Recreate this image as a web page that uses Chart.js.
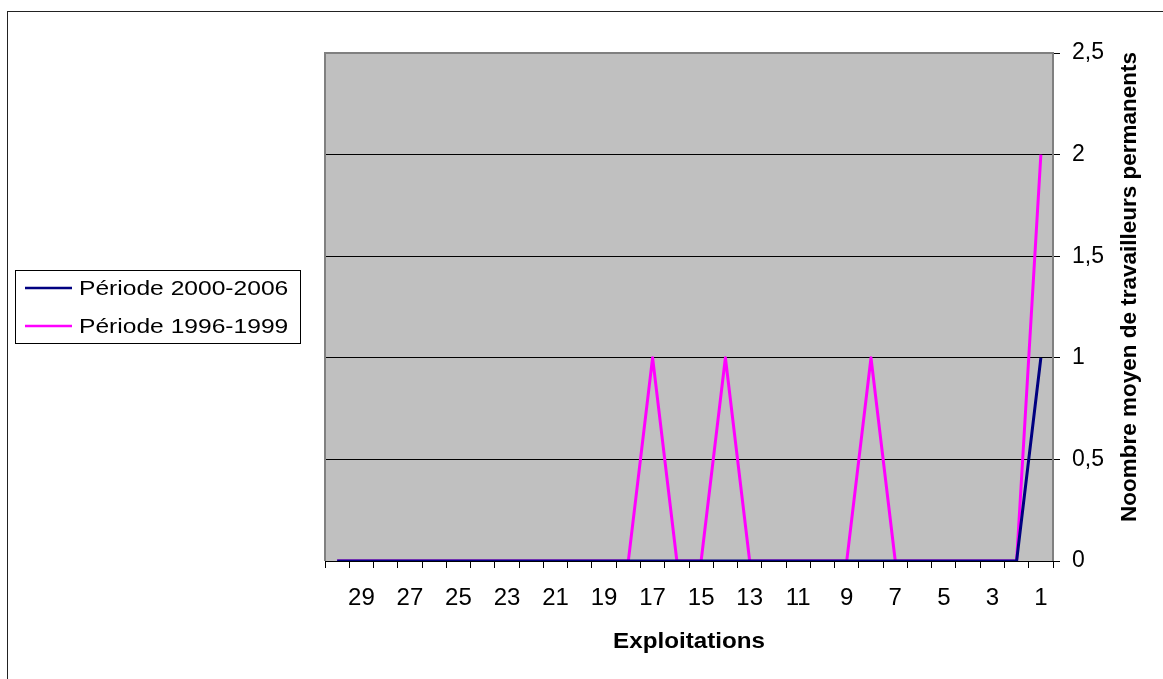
<!DOCTYPE html>
<html>
<head>
<meta charset="utf-8">
<script src="https://cdn.jsdelivr.net/npm/chart.js@4"></script>
<style>
  body { margin: 0; background: #fff; }
</style>
</head>
<body>
<canvas id="graphique" width="1163" height="679"></canvas>
<script>
// Exploitations, affichées de 30 à 1
const exploitations = ['30', '29', '28', '27', '26', '25', '24', '23', '22', '21',
  '20', '19', '18', '17', '16', '15', '14', '13', '12', '11',
  '10', '9', '8', '7', '6', '5', '4', '3', '2', '1'];

// Nombre moyen de travailleurs permanents
const periode2000_2006 = [0, 0, 0, 0, 0, 0, 0, 0, 0, 0,
  0, 0, 0, 0, 0, 0, 0, 0, 0, 0,
  0, 0, 0, 0, 0, 0, 0, 0, 0, 1];
const periode1996_1999 = [0, 0, 0, 0, 0, 0, 0, 0, 0, 0,
  0, 0, 0, 1, 0, 0, 1, 0, 0, 0,
  0, 0, 1, 0, 0, 0, 0, 0, 0, 2];

const nomsSeries = ['Période 2000-2006', 'Période 1996-1999'];
const couleurs = ['#000080', '#ff00ff'];
const titreX = 'Exploitations';
const titreY = 'Noombre moyen de travailleurs permanents';

const police = 'Liberation Sans, Arial, sans-serif';

// fond gris, cadre, légende et titres
const decor = {
  id: 'decor',
  beforeDraw(chart) {
    const { ctx, chartArea: a } = chart;
    ctx.save();
    ctx.fillStyle = '#fff';
    ctx.fillRect(0, 0, chart.width, chart.height);
    ctx.strokeStyle = '#222';
    ctx.lineWidth = 1;
    ctx.strokeRect(7.5, 11.5, 1300, 800);
    ctx.fillStyle = '#c0c0c0';
    ctx.fillRect(a.left, a.top, a.right - a.left, a.bottom - a.top);
    ctx.restore();
  },
  afterDraw(chart) {
    const { ctx, chartArea: a } = chart;
    ctx.save();
    // bordure de la zone de traçage
    ctx.strokeStyle = '#808080';
    ctx.lineWidth = 2;
    ctx.beginPath();
    ctx.moveTo(a.left, a.bottom);
    ctx.lineTo(a.left, a.top);
    ctx.lineTo(a.right, a.top);
    ctx.lineTo(a.right, a.bottom);
    ctx.stroke();

    // légende
    ctx.fillStyle = '#fff';
    ctx.fillRect(15, 270, 285, 73);
    ctx.strokeStyle = '#000';
    ctx.lineWidth = 1;
    ctx.strokeRect(15.5, 270.5, 285, 73);
    const lignesY = [288, 326];
    nomsSeries.forEach((nom, i) => {
      ctx.strokeStyle = couleurs[i];
      ctx.lineWidth = 2.5;
      ctx.beginPath();
      ctx.moveTo(25, lignesY[i]);
      ctx.lineTo(72, lignesY[i]);
      ctx.stroke();
      ctx.save();
      ctx.translate(79, lignesY[i]);
      ctx.scale(1.23, 1);
      ctx.fillStyle = '#000';
      ctx.font = '20px ' + police;
      ctx.textBaseline = 'middle';
      ctx.fillText(nom, 0, 1);
      ctx.restore();
    });

    // titre axe X
    ctx.save();
    ctx.translate(689, 642);
    ctx.scale(1.1, 1);
    ctx.fillStyle = '#000';
    ctx.font = 'bold 22px ' + police;
    ctx.textAlign = 'center';
    ctx.textBaseline = 'middle';
    ctx.fillText(titreX, 0, 0);
    ctx.restore();

    // titre axe Y
    ctx.save();
    ctx.translate(1130, 287);
    ctx.rotate(-Math.PI / 2);
    ctx.fillStyle = '#000';
    ctx.font = 'bold 22.5px ' + police;
    ctx.textAlign = 'center';
    ctx.textBaseline = 'middle';
    ctx.fillText(titreY, 0, 0);
    ctx.restore();
    ctx.restore();
  }
};

new Chart(document.getElementById('graphique').getContext('2d'), {
  type: 'line',
  data: {
    labels: exploitations,
    datasets: [{
      label: nomsSeries[0],
      data: periode2000_2006,
      borderColor: couleurs[0],
      borderWidth: 3,
      borderJoinStyle: 'round',
      pointRadius: 0,
      tension: 0
    }, {
      label: nomsSeries[1],
      data: periode1996_1999,
      borderColor: couleurs[1],
      borderWidth: 3,
      borderJoinStyle: 'round',
      pointRadius: 0,
      tension: 0
    }]
  },
  options: {
    responsive: false,
    animation: false,
    layout: { padding: { left: 325, top: 53, right: 0, bottom: 0 } },
    plugins: {
      legend: { display: false },
      tooltip: { enabled: false }
    },
    scales: {
      x: {
        type: 'category',
        offset: true,
        afterFit: (s) => { s.height = 118; },
        grid: {
          offset: true,
          drawOnChartArea: false,
          drawTicks: true,
          tickLength: 7,
          tickColor: '#000'
        },
        border: { color: '#000', width: 1 },
        ticks: {
          autoSkip: false,
          maxRotation: 0,
          padding: 16,
          color: '#000',
          font: { family: police, size: 24 },
          callback: function (val, idx) {
            const lab = exploitations[idx];
            return Number(lab) % 2 === 1 ? lab : '';
          }
        }
      },
      y: {
        position: 'right',
        min: 0,
        max: 2.5,
        afterFit: (s) => { s.width = 110; },
        grid: {
          color: '#000',
          lineWidth: 1,
          tickLength: 7,
          tickColor: '#000'
        },
        border: { display: false },
        ticks: {
          stepSize: 0.5,
          padding: 12,
          color: '#000',
          font: { family: police, size: 23 },
          callback: (v) => String(v).replace('.', ',')
        }
      }
    }
  },
  plugins: [decor]
});
</script>
</body>
</html>
